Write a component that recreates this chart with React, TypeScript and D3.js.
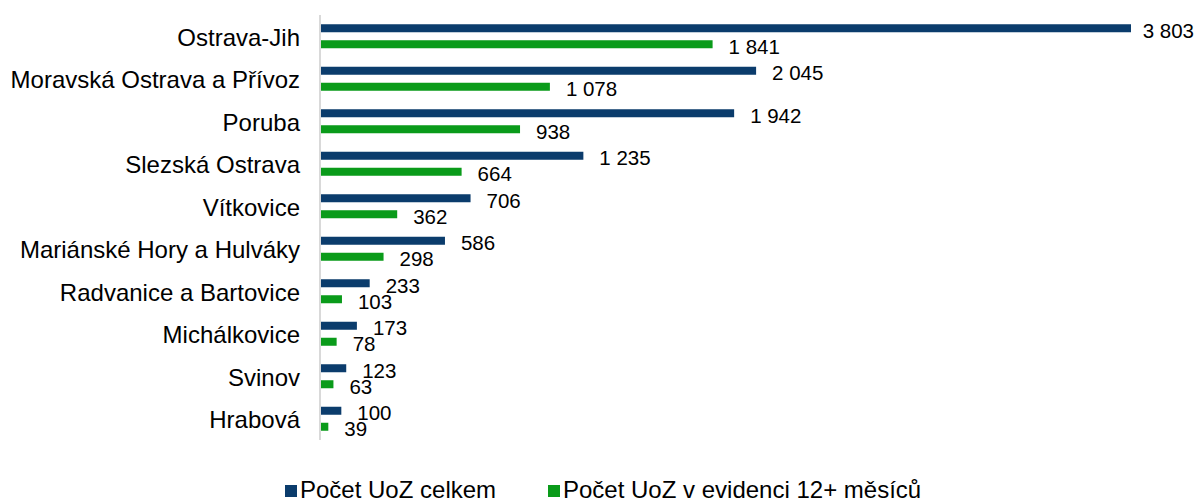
import React, { useEffect } from "react";
import { scaleBand, scaleLinear, format } from "d3";

////
// data
const categories = [
  "Ostrava-Jih",
  "Moravská Ostrava a Přívoz",
  "Poruba",
  "Slezská Ostrava",
  "Vítkovice",
  "Mariánské Hory a Hulváky",
  "Radvanice a Bartovice",
  "Michálkovice",
  "Svinov",
  "Hrabová",
];
const celkem = [3803, 2045, 1942, 1235, 706, 586, 233, 173, 123, 100];
const evidence12 = [1841, 1078, 938, 664, 362, 298, 103, 78, 63, 39];
const seriesNames = ["Počet UoZ celkem", "Počet UoZ v evidenci 12+ měsíců"];

////
const OPTIONS = {
  width: 1196,
  height: 499,
  axisX: 320,
  top: 15,
  bottom: 440,
  right: 1131,
  colors: ["#0B3C6C", "#0A9B1A"],
  font: "'Liberation Sans', Arial, sans-serif",
};

// "3 803"
const fmt = (v: number) => format(",")(v).replace(/,/g, " ");

export default function App() {
  const { width, height, axisX, top, bottom, right, colors, font } = OPTIONS;
  //
  useEffect(() => {
    document.body.style.margin = "0";
  }, []);
  //
  const y = scaleBand<string>().domain(categories).range([top, bottom]);
  const x = scaleLinear().domain([0, 3803]).range([axisX, right]);
  const sub = scaleBand<number>()
    .domain([0, 1])
    .range([-12, 12])
    .paddingInner(0.5);
  //
  const series = [celkem, evidence12];
  //
  return (
    <svg width={width} height={height} style={{ display: "block", fontFamily: font }}>
      {/* category labels */}
      {categories.map((c) => (
        <text
          key={c}
          x={axisX - 20}
          y={(y(c) ?? 0) + y.bandwidth() / 2 + 1}
          textAnchor="end"
          dominantBaseline="central"
          fontSize={24}
          fill="#000"
        >
          {c}
        </text>
      ))}
      {/* bars + labels */}
      {series.map((vals, si) =>
        vals.map((v, i) => {
          const cy = (y(categories[i]) ?? 0) + y.bandwidth() / 2 + (sub(si) ?? 0);
          const end = x(v);
          let lx = end + 16;
          let anchor = "start";
          if (lx + 55 > width) {
            lx = width - 2;
            anchor = "end";
          }
          return (
            <g key={si + "-" + i}>
              <rect x={axisX} y={cy} width={end - axisX} height={sub.bandwidth()} fill={colors[si]} />
              <text
                x={lx}
                y={cy + sub.bandwidth() / 2 + 2}
                textAnchor={anchor}
                dominantBaseline="central"
                fontSize={20.5}
                fill="#000"
              >
                {fmt(v)}
              </text>
            </g>
          );
        })
      )}
      {/* axis line */}
      <line x1={axisX} x2={axisX} y1={top} y2={bottom} stroke="#D9D9D9" strokeWidth={2} />
      {/* legend */}
      {seriesNames.map((n, si) => {
        const lx = si === 0 ? 285 : 548;
        return (
          <g key={n} transform={`translate(${lx}, 485)`}>
            <rect x={0} y={0} width={12} height={12} fill={colors[si]} />
            <text x={15} y={13} fontSize={24} fill="#000">
              {n}
            </text>
          </g>
        );
      })}
    </svg>
  );
}
